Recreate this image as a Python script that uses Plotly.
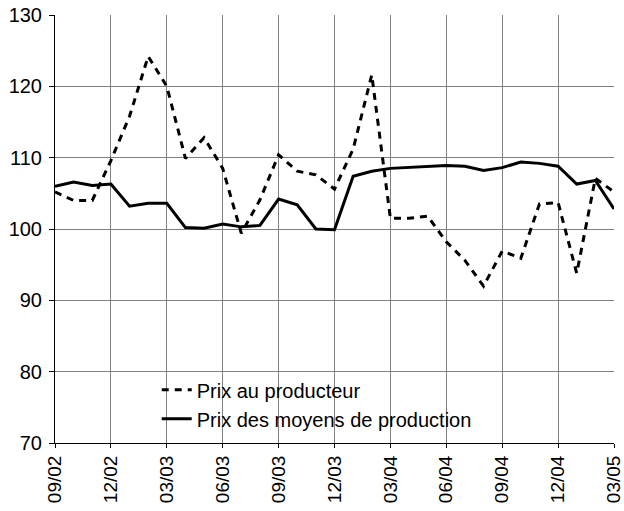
import plotly.graph_objects as go

months = ["09/02", "10/02", "11/02", "12/02", "01/03", "02/03", "03/03", "04/03",
          "05/03", "06/03", "07/03", "08/03", "09/03", "10/03", "11/03", "12/03",
          "01/04", "02/04", "03/04", "04/04", "05/04", "06/04", "07/04", "08/04",
          "09/04", "10/04", "11/04", "12/04", "01/05", "02/05", "03/05"]

prix_producteur = [105.2, 104.0, 104.0, 109.6, 115.8, 124.2, 120.0, 109.9,
                   112.8, 108.5, 99.4, 104.1, 110.4, 108.1, 107.6, 105.6,
                   111.2, 121.6, 101.5, 101.5, 101.8, 98.2, 95.6, 92.0,
                   96.9, 95.9, 103.5, 103.7, 93.8, 107.1, 105.2]

prix_moyens = [106.0, 106.6, 106.1, 106.3, 103.2, 103.6, 103.6, 100.2,
               100.1, 100.7, 100.3, 100.5, 104.2, 103.4, 100.0, 99.9,
               107.4, 108.1, 108.5, 108.6, 108.8, 108.9, 108.8, 108.2,
               108.6, 109.4, 109.2, 108.8, 106.3, 106.8, 102.8]

tick_labels = months[::3]
y_ticks = [70, 80, 90, 100, 110, 120, 130]

FONT = "Liberation Sans, Arial, sans-serif"
FS = 20

fig = go.Figure()
fig.add_trace(go.Scatter(
    x=months, y=prix_producteur, mode="lines", name="Prix au producteur",
    line=dict(color="black", width=3, dash="7px,6px")))
fig.add_trace(go.Scatter(
    x=months, y=prix_moyens, mode="lines", name="Prix des moyens de production",
    line=dict(color="black", width=3)))

fig.update_layout(
    width=624, height=511,
    margin=dict(l=55, r=10, t=15, b=68, autoexpand=False),
    paper_bgcolor="white", plot_bgcolor="white",
    font=dict(family=FONT, size=FS, color="black"),
    showlegend=True,
    legend=dict(x=0.182, y=0.17, xanchor="left", yanchor="top",
                bgcolor="rgba(0,0,0,0)", borderwidth=0,
                font=dict(family=FONT, size=FS, color="black"),
                tracegroupgap=0),
)
fig.update_xaxes(
    type="category", range=[0, len(months) - 1], automargin=False,
    tickmode="array", tickvals=tick_labels, ticktext=tick_labels,
    tickangle=-90, ticks="outside", ticklen=4, tickcolor="black",
    showgrid=True, gridcolor="#808080", gridwidth=1,
    showline=True, linecolor="black", linewidth=1, mirror=False,
    zeroline=False, tickfont=dict(family=FONT, size=19, color="black"),
)
fig.update_yaxes(
    range=[70, 130], tickvals=y_ticks, automargin=False,
    ticks="outside", ticklen=5, tickcolor="black", ticklabelstandoff=3,
    showgrid=True, gridcolor="#808080", gridwidth=1,
    showline=True, linecolor="black", linewidth=1,
    zeroline=False, tickfont=dict(family=FONT, size=FS, color="black"),
)

fig.write_html("out.html",
               config={"displayModeBar": False},
               post_script="document.body.style.margin='0';"
                           "document.body.style.overflow='hidden';")
